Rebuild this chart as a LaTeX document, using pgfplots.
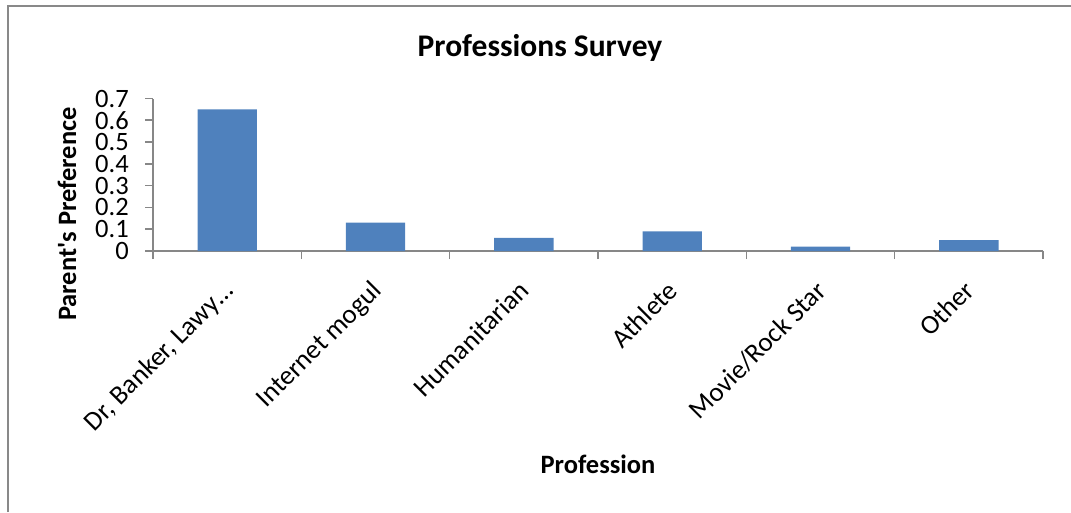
\documentclass[border=0pt]{standalone}
\usepackage{pgfplots}
\pgfplotsset{compat=1.18}
\usepackage{fontspec}
\setmainfont{Carlito}[Ligatures=TeXOff]
\definecolor{barblue}{HTML}{4F81BD}
\definecolor{axgray}{HTML}{878787}
\definecolor{framegray}{HTML}{898989}
\begin{document}
\begin{tikzpicture}
\path[use as bounding box] (0pt,0pt) rectangle (1071pt,-512pt);
\draw[framegray, line width=2.5pt] (8pt,-512pt) -- (8pt,-6pt) -- (1071pt,-6pt);
\begin{axis}[
  at={(153pt,-251pt)}, anchor=south west,
  scale only axis, width=890pt, height=152.5pt,
  xmin=-0.5, xmax=5.5, ymin=0, ymax=0.7,
  axis x line*=bottom, axis y line*=left,
  axis line style={draw=axgray, line width=1.6pt},
  tick style={draw=axgray, line width=1.6pt},
  major tick length=8pt, tick align=outside,
  xtick={-0.5,0.5,1.5,2.5,3.5,4.5,5.5},
  x tick label as interval,
  xticklabels={{Dr, Banker, Lawy\dots},{Internet mogul},{Humanitarian},{Athlete},{Movie/Rock Star},{Other}},
  xticklabel style={xshift=-6pt, yshift=-20pt, rotate=45, anchor=north east, font=\fontsize{27}{27}\selectfont, inner sep=0pt},
  ytick={0,0.1,0.2,0.3,0.4,0.5,0.6,0.7},
  yticklabel style={font=\fontsize{26.5}{26.5}\selectfont, /pgf/number format/assume math mode=true, /pgf/number format/fixed, inner sep=0pt, xshift=-16pt},
  ybar, bar width=0.4,
]
\addplot[fill=barblue, draw=none] coordinates {(0,0.65) (1,0.13) (2,0.06) (3,0.09) (4,0.02) (5,0.05)};
\end{axis}
\node[anchor=base, font=\fontsize{31.5}{31.5}\selectfont\bfseries] at (540pt,-56pt) {Professions Survey};
\node[anchor=base, font=\fontsize{26.5}{26.5}\selectfont\bfseries] at (598pt,-473pt) {Profession};
\node[anchor=base, rotate=90, font=\fontsize{26.5}{26.5}\selectfont\bfseries] at (76pt,-214pt) {Parent's Preference};
\end{tikzpicture}
\end{document}
